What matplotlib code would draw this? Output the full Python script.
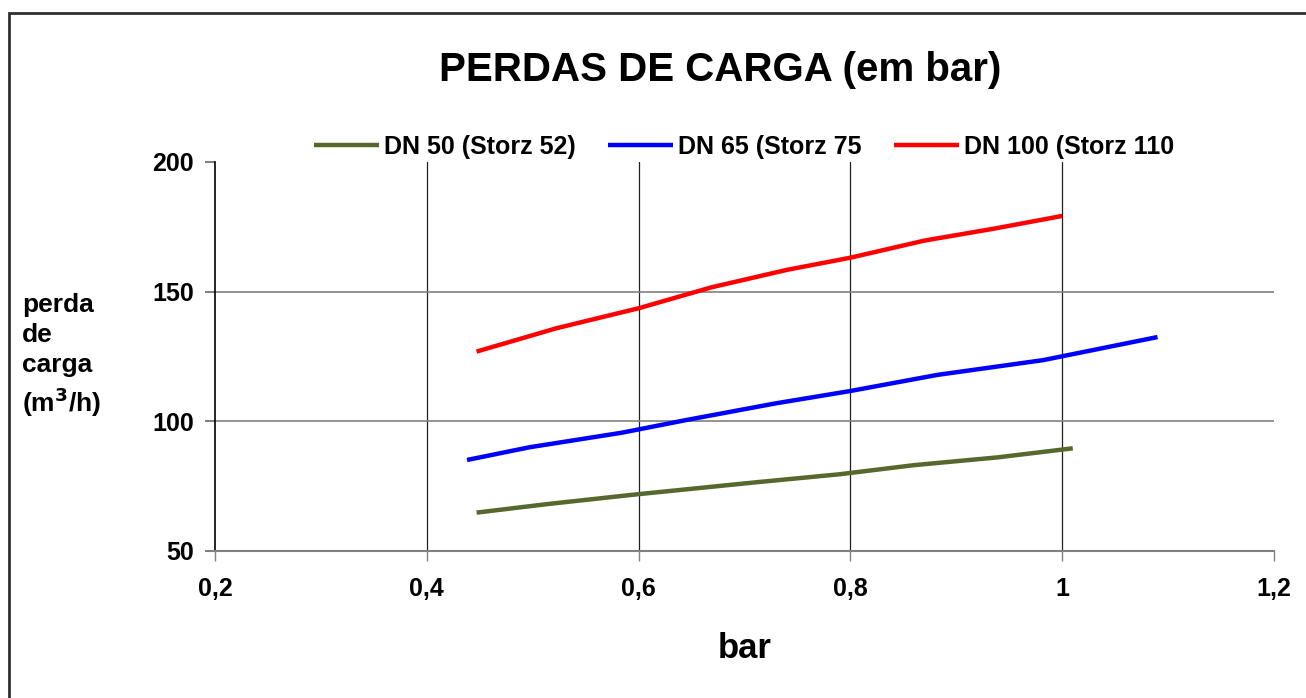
import numpy as np
import matplotlib
matplotlib.use('Agg')
import matplotlib.pyplot as plt
from matplotlib.patches import Rectangle

plt.rcParams['font.family'] = ['Liberation Sans', 'DejaVu Sans']
plt.rcParams['font.weight'] = 'bold'

# DN 50 (Storz 52)
x_dn50 = [0.447, 0.514, 0.597, 0.711, 0.79, 0.86, 0.939, 1.01]
y_dn50 = [64.8, 68.1, 71.8, 76.5, 79.6, 83.1, 86.1, 89.6]
# DN 65 (Storz 75
x_dn65 = [0.438, 0.497, 0.584, 0.645, 0.729, 0.8, 0.882, 0.982, 1.09]
y_dn65 = [85.1, 90.0, 95.6, 100.5, 106.9, 111.7, 117.9, 123.6, 132.5]
# DN 100 (Storz 110
x_dn100 = [0.447, 0.5225, 0.6, 0.669, 0.74, 0.8, 0.87, 0.937, 1.0]
y_dn100 = [126.9, 135.9, 143.6, 151.7, 158.4, 163.1, 169.7, 174.4, 179.2]

labels = ['DN 50 (Storz 52)', 'DN 65 (Storz 75', 'DN 100 (Storz 110']
colors = ['#55692c', '#0000ff', '#ff0000']
xticks = [0.2, 0.4, 0.6, 0.8, 1.0, 1.2]
xtick_labels = ['0,2', '0,4', '0,6', '0,8', '1', '1,2']
yticks = [50, 100, 150, 200]

fig = plt.figure(figsize=(13.06, 6.98), dpi=100)
ax = fig.add_axes([215 / 1306, 1 - 551 / 698, (1274 - 215) / 1306, (551 - 162) / 698])

series = [(x_dn50, y_dn50), (x_dn65, y_dn65), (x_dn100, y_dn100)]
for (xs, ys), lab, c in zip(series, labels, colors):
    ax.plot(xs, ys, color=c, lw=3.2, label=lab, solid_capstyle='butt')

ax.set_xlim(0.2, 1.2)
ax.set_ylim(50, 200)
ax.set_xticks(xticks)
ax.set_xticklabels(xtick_labels)
ax.set_yticks(yticks)

for xv in xticks[1:-1]:
    ax.axvline(xv, color='#202020', lw=0.9, zorder=0)
for yv in [100, 150]:
    ax.axhline(yv, color='#808080', lw=1.2, zorder=0)

ax.spines['top'].set_visible(False)
ax.spines['right'].set_visible(False)
ax.spines['left'].set_color('black')
ax.spines['left'].set_linewidth(1.2)
ax.spines['bottom'].set_color('#808080')
ax.spines['bottom'].set_linewidth(1.5)
ax.tick_params(axis='x', direction='out', length=7, width=1, colors='#808080',
               labelcolor='black', labelsize=18, pad=12)
ax.tick_params(axis='y', direction='out', length=7, width=1.5, colors='#808080',
               labelcolor='black', labelsize=18, pad=8)
for t in ax.get_xticklabels() + ax.get_yticklabels():
    t.set_fontweight('bold')

ax.set_xlabel('bar', fontsize=25, fontweight='bold', labelpad=22)
fig.text(22 / 1306, 1 - 356 / 698, 'perda\nde\ncarga\n(m$^3$/h)', fontsize=19,
         fontweight='bold', ha='left', va='center', linespacing=1.32)

fig.text(720 / 1306, 1 - 70 / 698, 'PERDAS DE CARGA (em bar)', fontsize=29,
         fontweight='bold', ha='center', va='center')

leg = fig.legend(loc='center', bbox_to_anchor=(744 / 1306, 1 - 147 / 698), ncol=3,
                 frameon=False, fontsize=18, handlelength=2.6, columnspacing=1.3,
                 handletextpad=0.2)
for t in leg.get_texts():
    t.set_fontweight('bold')

fig.patches.append(Rectangle((9 / 1306, -0.1), 1.2, 1 - 13 / 698 + 0.1,
                             transform=fig.transFigure, fill=False,
                             edgecolor='#303030', lw=2, zorder=10))

fig.savefig('out.png', dpi=100)
